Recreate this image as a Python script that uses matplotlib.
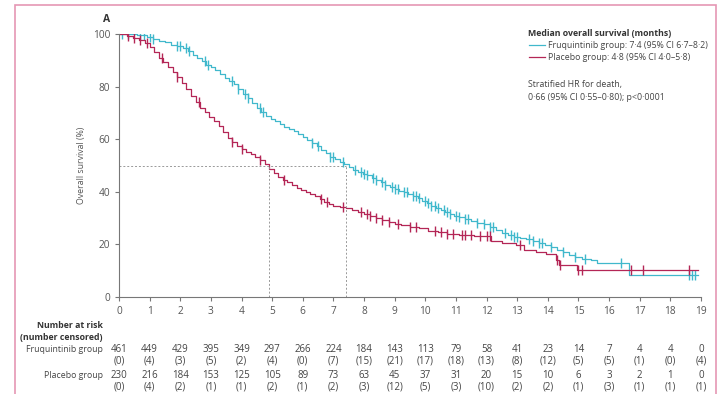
import numpy as np
import matplotlib
matplotlib.use("Agg")
import matplotlib.pyplot as plt
from matplotlib.transforms import blended_transform_factory
from matplotlib.patches import Rectangle
from matplotlib.lines import Line2D

plt.rcParams['font.family'] = ['Open Sans', 'DejaVu Sans']

# ---- data ----
fruq_t = [0, 0.6, 0.9, 1.1, 1.3, 1.5, 1.7, 1.9, 2.1, 2.25, 2.4, 2.55, 2.7, 2.85, 3.0, 3.15,
          3.3, 3.45, 3.6, 3.75, 3.9, 4.05, 4.2, 4.35, 4.5, 4.65, 4.8, 4.95, 5.1, 5.25, 5.4,
          5.55, 5.7, 5.85, 6.0, 6.15, 6.3, 6.45, 6.6, 6.75, 6.9, 7.05, 7.2, 7.35, 7.5, 7.65,
          7.8, 7.95, 8.1, 8.25, 8.4, 8.55, 8.7, 8.85, 9.0, 9.15, 9.3, 9.45, 9.6, 9.75, 9.9,
          10.05, 10.2, 10.35, 10.5, 10.65, 10.8, 10.95, 11.1, 11.3, 11.5, 11.7, 11.9, 12.1,
          12.3, 12.5, 12.7, 12.9, 13.1, 13.3, 13.5, 13.7, 13.9, 14.1, 14.3, 14.5, 14.7, 14.9,
          15.1, 15.4, 15.6, 16.65, 18.9]
fruq_s = [100, 99.6, 99, 98, 97.4, 96.8, 96, 95.4, 94.6, 93.4, 92.2, 91, 89.7, 88.4, 87.4, 86.2,
          84.8, 83.4, 82.2, 80.8, 79.2, 77.3, 75.5, 73.6, 72, 70.3, 69, 67.8, 66.8, 65.8, 64.8,
          64, 63, 62, 61, 59.8, 58.6, 57.3, 56, 54.6, 53.3, 52.4, 51.4, 50.4, 49.4, 48.3,
          47.4, 46.8, 46.2, 45.4, 44.6, 43.6, 42.6, 41.8, 41, 40.4, 39.8, 39.1, 38.4, 37.6, 36.6,
          35.6, 34.6, 33.8, 33, 32.2, 31.5, 30.9, 30.3, 29.6, 29, 28.3, 27.7, 26.8,
          25.6, 24.4, 23.6, 23, 22.5, 21.9, 21.2, 20.4, 19.6, 18.9, 17.9, 17, 16, 15.2,
          14.6, 14.1, 12.8, 8.4, 8.4]
plac_t = [0, 0.25, 0.45, 0.65, 0.85, 1.0, 1.15, 1.3, 1.45, 1.6, 1.75, 1.9, 2.05, 2.2, 2.35,
          2.5, 2.65, 2.8, 2.95, 3.1, 3.25, 3.4, 3.55, 3.7, 3.85, 4.0, 4.15, 4.3, 4.45, 4.6,
          4.75, 4.9, 5.05, 5.2, 5.35, 5.5, 5.65, 5.8, 5.95, 6.1, 6.25, 6.4, 6.55, 6.7, 6.85,
          7.0, 7.2, 7.4, 7.6, 7.8, 8.0, 8.2, 8.4, 8.6, 8.8, 9.0, 9.2, 9.5, 9.8, 10.1, 10.4,
          10.7, 11.1, 11.6, 12.14, 12.5, 12.95, 13.22, 13.6, 13.93, 14.26, 14.36, 14.95, 18.9]
plac_s = [100, 99.2, 98.4, 97.6, 96.6, 95, 93, 91, 89.2, 87.5, 85.5, 83.5, 81.3, 79, 76.6,
          74, 72, 70.2, 68.6, 67, 65, 62.8, 60.6, 58.8, 57.4, 56.2, 55.2, 54.2, 53.2, 52.2,
          50.4, 48.6, 47, 45.8, 44.6, 43.8, 42.6, 41.6, 40.8, 40, 39.2, 38.3, 37.2, 36, 35.2,
          34.7, 34.3, 33.7, 33.1, 32.4, 31.6, 30.8, 30.2, 29.4, 28.6, 27.9, 27.4, 26.8, 26.2,
          25.2, 24.6, 24.1, 23.6, 23.2, 21.2, 20.6, 19.8, 17.9, 17.1, 16.3, 14.1, 12.2, 10.3, 10.3]
fruq_cens = [0.1, 0.3, 0.7, 0.8, 1.0, 1.1, 1.9, 2.0, 2.2, 2.3, 2.8, 2.9, 3.7, 3.9, 4.1, 4.2,
             4.6, 4.7, 6.3, 6.5, 6.9, 7.0, 7.3, 7.7, 7.9, 8.0, 8.1, 8.3, 8.4, 8.6, 8.7, 8.9,
             9.0, 9.1, 9.3, 9.4, 9.6, 9.7, 9.8, 10.0, 10.1, 10.2, 10.3, 10.4, 10.6, 10.7,
             10.8, 11.0, 11.1, 11.3, 11.4, 11.7, 11.9, 12.1, 12.2, 12.6, 12.8, 12.9, 13.0,
             13.4, 13.5, 13.7, 13.8, 14.1, 14.5, 14.9, 15.2, 16.4, 18.6, 18.7, 18.8]
plac_cens = [0.3, 0.5, 0.7, 0.9, 1.4, 1.9, 2.6, 3.7, 4.0, 4.6, 5.4, 6.6, 6.8, 7.3, 7.9, 8.1,
             8.2, 8.4, 8.6, 8.8, 9.1, 9.5, 9.7, 10.3, 10.5, 10.7, 10.9, 11.2, 11.3, 11.5,
             11.8, 12.0, 12.1, 13.1, 14.3, 14.4, 15.0, 15.1, 16.7, 17.1, 18.6]
medians = [7.4, 4.9]

time_ticks = list(range(0, 20))
fruq_risk = [461, 449, 429, 395, 349, 297, 266, 224, 184, 143, 113, 79, 58, 41, 23, 14, 7, 4, 4, 0]
fruq_cens_n = [0, 4, 3, 5, 2, 4, 0, 7, 15, 21, 17, 18, 13, 8, 12, 5, 5, 1, 0, 4]
plac_risk = [230, 216, 184, 153, 125, 105, 89, 73, 63, 45, 37, 31, 20, 15, 10, 6, 3, 2, 1, 0]
plac_cens_n = [0, 4, 2, 1, 1, 2, 1, 2, 3, 12, 5, 3, 10, 2, 2, 1, 3, 1, 1, 1]

CYAN = '#40b8cc'
RED = '#b42656'
GRAY = '#555555'
FS = 6.3
NFS = 7

W, H = 722, 394
fig = plt.figure(figsize=(W / 100, H / 100), dpi=100)
ax = fig.add_axes([119 / W, 1 - 297 / H, (701 - 119) / W, (297 - 34) / H])

# pink frame
fig.patches.append(Rectangle((15 / W, -0.05), (716 - 15) / W, 1 - 5 / H + 0.05,
                             transform=fig.transFigure, fill=False,
                             edgecolor='#e597b4', lw=1.2))


def step_eval(t, s, x):
    idx = np.searchsorted(t, x, side='right') - 1
    return np.asarray(s)[idx]


for t, s, c, cens in [(fruq_t, fruq_s, CYAN, fruq_cens), (plac_t, plac_s, RED, plac_cens)]:
    ax.plot(t, s, drawstyle='steps-post', color=c, lw=0.9)
    ax.plot(cens, step_eval(np.array(t), s, np.array(cens)), ls='none', marker='|',
            color=c, ms=6.5, mew=1.0)

# median lines
dash = dict(color='#999999', lw=0.7, ls=(0, (2, 2)))
ax.plot([0, max(medians)], [50, 50], **dash)
for m in medians:
    ax.plot([m, m], [0, 50], **dash)

ax.set_xlim(0, 19)
ax.set_ylim(0, 100)
ax.set_xticks(time_ticks)
ax.set_yticks([0, 20, 40, 60, 80, 100])
for sp in ['top', 'right']:
    ax.spines[sp].set_visible(False)
for sp in ['left', 'bottom']:
    ax.spines[sp].set_color('#777777')
    ax.spines[sp].set_linewidth(0.8)
ax.tick_params(colors='#777777', labelcolor=GRAY, labelsize=7.3, length=3, width=0.8)
ax.set_ylabel('Overall survival (%)', fontsize=FS, color=GRAY, labelpad=5)

fig.text(107 / W, 1 - 19 / H, 'A', fontsize=7.5, fontweight='bold', color='#333333',
         ha='center', va='center')

# legend
fig.text(528 / W, 1 - 33 / H, 'Median overall survival (months)', fontsize=FS,
         fontweight='bold', color='#333333', va='center')
for yy, c, lab in [(45, CYAN, 'Fruquintinib group: 7·4 (95% CI 6·7–8·2)'),
                   (57, RED, 'Placebo group: 4·8 (95% CI 4·0–5·8)')]:
    fig.add_artist(Line2D([529 / W, 545 / W], [1 - yy / H, 1 - yy / H], color=c, lw=0.9,
                          transform=fig.transFigure))
    fig.text(548 / W, 1 - yy / H, lab, fontsize=FS, color='#444444', va='center')
fig.text(528 / W, 1 - 85 / H, 'Stratified HR for death,', fontsize=FS, color='#444444',
         va='center')
fig.text(528 / W, 1 - 98 / H, '0·66 (95% CI 0·55–0·80); p<0·0001', fontsize=FS,
         color='#444444', va='center')

# number at risk table
tr = blended_transform_factory(ax.transData, fig.transFigure)
fig.text(103 / W, 1 - 325 / H, 'Number at risk', fontsize=FS, fontweight='bold',
         color='#333333', ha='right', va='center')
fig.text(103 / W, 1 - 337 / H, '(number censored)', fontsize=FS, fontweight='bold',
         color='#333333', ha='right', va='center')
fig.text(103 / W, 1 - 350 / H, 'Fruquintinib group', fontsize=FS, color='#444444',
         ha='right', va='center')
fig.text(103 / W, 1 - 375 / H, 'Placebo group', fontsize=FS, color='#444444',
         ha='right', va='center')
for x, a, b, c, d in zip(time_ticks, fruq_risk, fruq_cens_n, plac_risk, plac_cens_n):
    for yy, txt in [(350, str(a)), (361, f'({b})'), (375, str(c)), (387, f'({d})')]:
        ax.text(x, 1 - yy / H, txt, transform=tr, fontsize=NFS, color='#444444',
                ha='center', va='center', clip_on=False)

fig.savefig('out.png', dpi=100)
